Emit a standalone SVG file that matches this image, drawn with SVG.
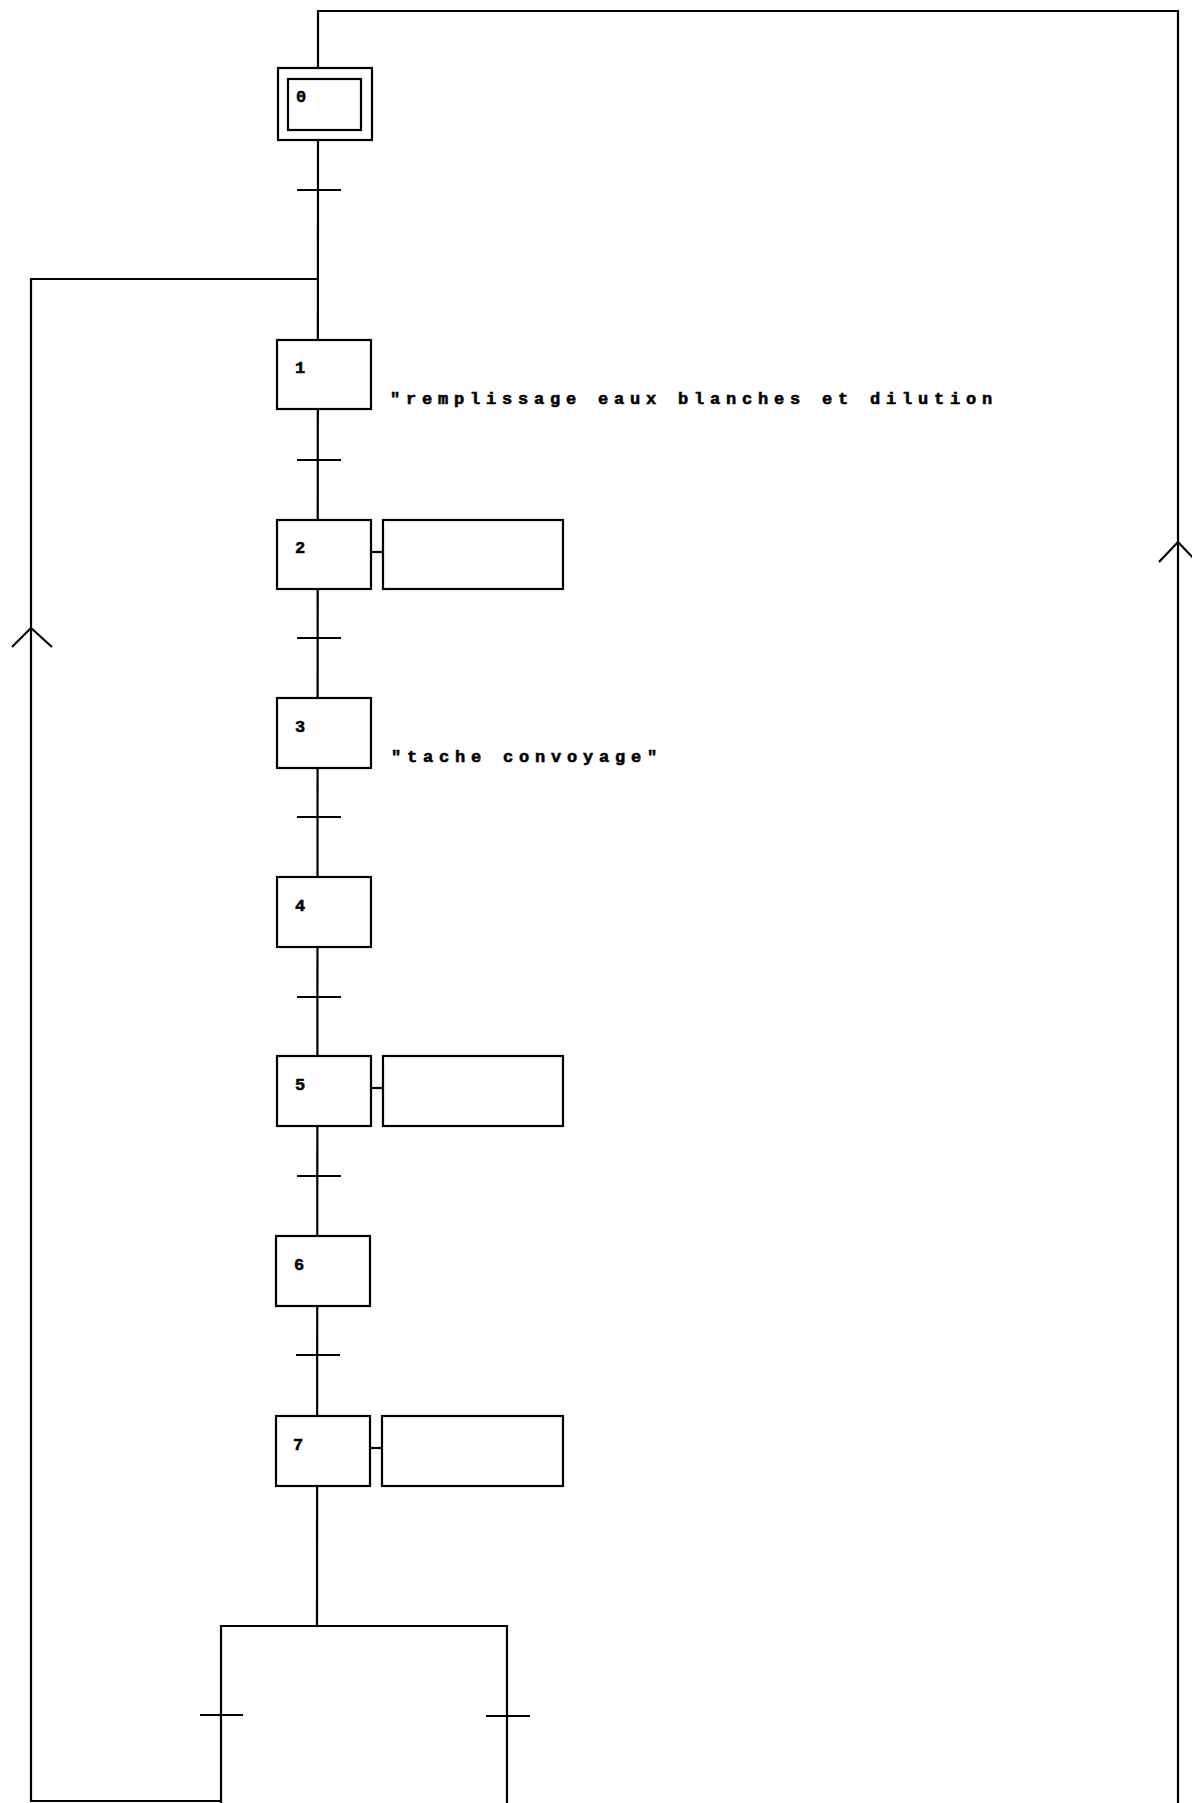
<svg xmlns="http://www.w3.org/2000/svg" width="1192" height="1803" viewBox="0 0 1192 1803">
<style>
.ln{stroke:#000;stroke-width:2.2;fill:none}
.box{stroke:#000;stroke-width:2.2;fill:#fff}
.num{font-family:"Liberation Mono",monospace;font-weight:bold;font-size:17px;fill:#000;stroke:#000;stroke-width:0.5}
.act{font-family:"Liberation Mono",monospace;font-weight:bold;font-size:17px;letter-spacing:5.8px;fill:#000;stroke:#000;stroke-width:0.6}
</style>
<rect width="1192" height="1803" fill="#fff"/>
<g id="connectors">
<polyline class="ln" points="318,68 318,11 1178,11 1178,1803"/>
<line class="ln" x1="318" y1="140" x2="317" y2="1626"/>
<polyline class="ln" points="317,279 31,279 31,1801 221,1801"/>
<polyline class="ln" points="221,1803 221,1626 507,1626 507,1803"/>
<polyline class="ln" points="12,647 31,628 52,647"/>
<polyline class="ln" points="1159,562 1178,542 1197,562"/>
<g id="transitions">
<line class="ln" x1="297" y1="190" x2="341" y2="190"/>
<line class="ln" x1="297" y1="460" x2="341" y2="460"/>
<line class="ln" x1="297" y1="638" x2="341" y2="638"/>
<line class="ln" x1="297" y1="817" x2="341" y2="817"/>
<line class="ln" x1="297" y1="997" x2="341" y2="997"/>
<line class="ln" x1="297" y1="1176" x2="341" y2="1176"/>
<line class="ln" x1="296" y1="1355" x2="340" y2="1355"/>
<line class="ln" x1="200" y1="1715" x2="243" y2="1715"/>
<line class="ln" x1="486" y1="1716" x2="530" y2="1716"/>
</g>
<line class="ln" x1="371" y1="552" x2="383" y2="552"/>
<line class="ln" x1="371" y1="1088" x2="383" y2="1088"/>
<line class="ln" x1="370" y1="1448" x2="382" y2="1448"/>
</g>
<g id="step0">
<rect class="box" x="278" y="68" width="94" height="72"/>
<rect class="box" x="288" y="79" width="73" height="51"/>
<text class="num" x="296" y="102">0</text>
</g>
<g id="step1">
<rect class="box" x="277" y="340" width="94" height="69"/>
<text class="num" x="295" y="373">1</text>
<text class="act" x="390" y="404">"remplissage eaux blanches et dilution</text>
</g>
<g id="step2">
<rect class="box" x="277" y="520" width="94" height="69"/>
<text class="num" x="295" y="553">2</text>
<rect class="box" x="383" y="520" width="180" height="69"/>
</g>
<g id="step3">
<rect class="box" x="277" y="698" width="94" height="70"/>
<text class="num" x="295" y="732">3</text>
<text class="act" x="391" y="762">"tache convoyage"</text>
</g>
<g id="step4">
<rect class="box" x="277" y="877" width="94" height="70"/>
<text class="num" x="295" y="911">4</text>
</g>
<g id="step5">
<rect class="box" x="277" y="1056" width="94" height="70"/>
<text class="num" x="295" y="1090">5</text>
<rect class="box" x="383" y="1056" width="180" height="70"/>
</g>
<g id="step6">
<rect class="box" x="276" y="1236" width="94" height="70"/>
<text class="num" x="294" y="1270">6</text>
</g>
<g id="step7">
<rect class="box" x="276" y="1416" width="94" height="70"/>
<text class="num" x="293" y="1450">7</text>
<rect class="box" x="382" y="1416" width="181" height="70"/>
</g>
</svg>
